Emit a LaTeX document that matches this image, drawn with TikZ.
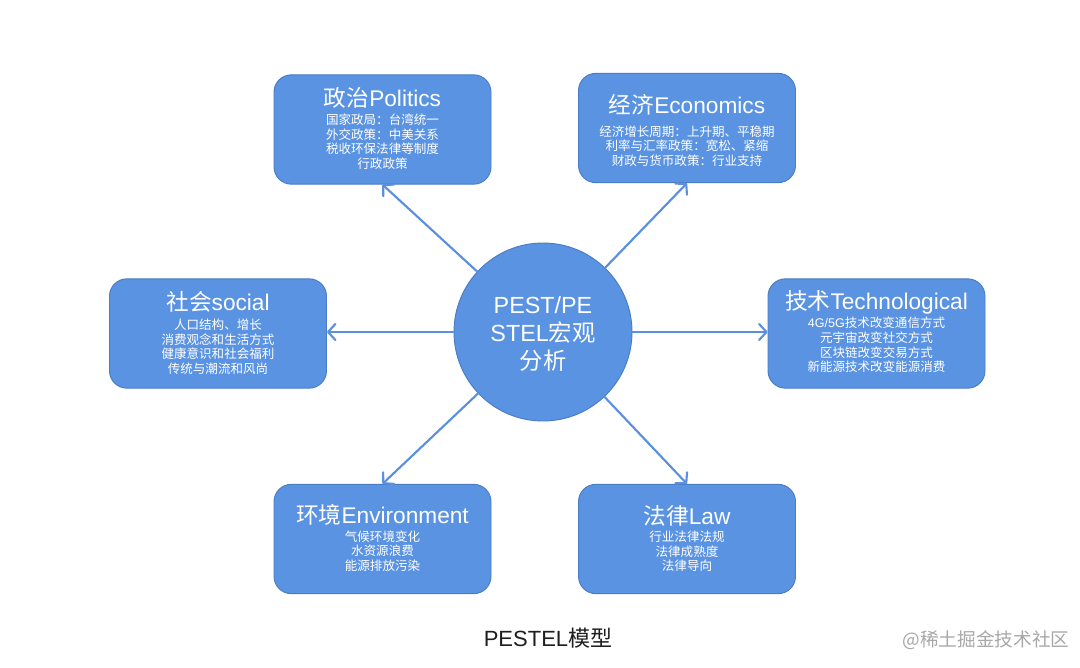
\documentclass[tikz,border=0pt]{standalone}
\usepackage{fontspec}
\setmainfont{Liberation Sans}
\newfontfamily\cjk{Noto Sans CJK SC}
\usetikzlibrary{arrows.meta}
\definecolor{boxfill}{HTML}{5A93E2}
\definecolor{boxline}{HTML}{4A7CC4}
\definecolor{arrowc}{HTML}{5B8FDF}
\definecolor{captc}{HTML}{1E1E1E}
\definecolor{wmc}{HTML}{A8A8A8}
\begin{document}
\begin{tikzpicture}[x=0.75pt,y=-0.75pt,
  card/.style={draw=boxline, line width=0.7pt, fill=boxfill, rounded corners=13pt,
    minimum width=162.75pt, minimum height=82pt, inner sep=0pt},
  hub/.style={circle, draw=boxline, line width=0.7pt, fill=boxfill, minimum size=133.5pt, inner sep=0pt},
  ttl/.style={text=white, font=\fontsize{17}{20}\selectfont, inner sep=0pt},
  sub/.style={text=white, font=\fontsize{9.4}{10.9}\selectfont\cjk, align=center, inner sep=0pt},
  hubtxt/.style={text=white, font=\fontsize{17.5}{21}\selectfont, align=center, inner sep=0pt},
  link/.style={draw=arrowc, line width=1.6pt, line cap=round,
    -{Straight Barb[length=5.5pt,width=12pt,line width=1.6pt,round]}},
]
\useasboundingbox (0,0) rectangle (1080,667);
\fill[white] (0,0) rectangle (1080,667);

% boxes
\node[card] (pol) at (382.5,129.5) {};
\node[card] (eco) at (687,128) {};
\node[card] (soc) at (218,333.5) {};
\node[card] (tec) at (876.5,333.5) {};
\node[card] (env) at (382.5,539) {};
\node[card] (law) at (687,539) {};
\node[hub] (c) at (543,332) {};

% hub text
\node[hubtxt] (ctxt) at (543,334) {PEST/PE\\STEL{\cjk 宏观}\\{\cjk 分析}};

% titles
\node[ttl] (polt) at (382.5,97.5) {{\cjk 政治}Politics};
\node[ttl] (ecot) at (687,105) {{\cjk 经济}Economics};
\node[ttl] (soct) at (218,302) {{\cjk 社会}social};
\node[ttl] (tect) at (876.5,302) {{\cjk 技术}Technological};
\node[ttl] (envt) at (382.5,515) {{\cjk 环境}Environment};
\node[ttl] (lawt) at (687,516) {{\cjk 法律}Law};

% sub texts
\node[sub] (pols) at (382.5,141.5) {国家政局：台湾统一\\外交政策：中美关系\\税收环保法律等制度\\行政政策};
\node[sub] (ecos) at (687,146) {经济增长周期：上升期、平稳期\\利率与汇率政策：宽松、紧缩\\财政与货币政策：行业支持};
\node[sub] (socs) at (218,346.5) {人口结构、增长\\消费观念和生活方式\\健康意识和社会福利\\传统与潮流和风尚};
\node[sub] (tecs) at (876.5,345) {{\fontspec{Liberation Sans}4G/5G}技术改变通信方式\\元宇宙改变社交方式\\区块链改变交易方式\\新能源技术改变能源消费};
\node[sub] (envs) at (382.5,551) {气候环境变化\\水资源浪费\\能源排放污染};
\node[sub] (laws) at (687,551.5) {行业法律法规\\法律成熟度\\法律导向};

% connectors
\draw[link] (c) -- (pol.south);
\draw[link] (c) -- (eco.south);
\draw[link] (c.west) -- (c.west -| soc.east);
\draw[link] (c.east) -- (c.east -| tec.west);
\draw[link] (c) -- (env.north);
\draw[link] (c) -- (law.north);

% caption and watermark
\node[text=captc, font=\fontsize{16.5}{20}\selectfont, inner sep=0pt] (cap) at (548,638) {PESTEL{\cjk 模型}};
\node[text=wmc, font=\fontsize{14}{16}\selectfont\cjk, inner sep=0pt] (wm) at (986,640) {@稀土掘金技术社区};
\end{tikzpicture}
\end{document}
